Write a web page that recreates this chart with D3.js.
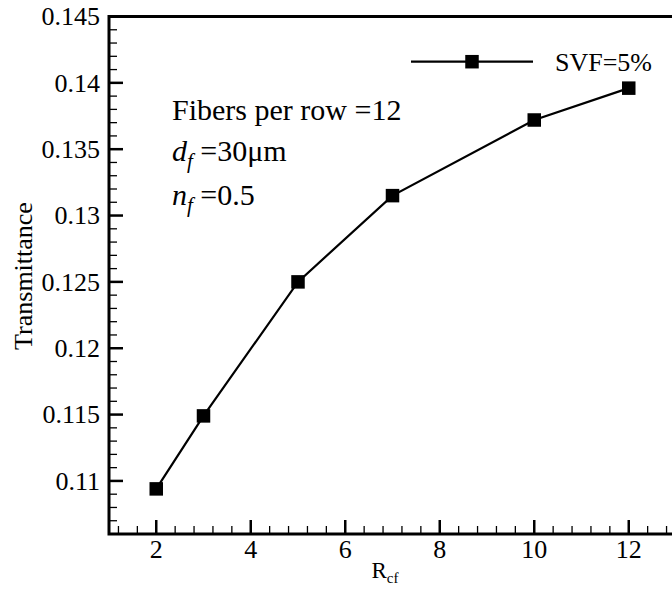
<!DOCTYPE html>
<html>
<head>
<meta charset="utf-8">
<script src="https://cdn.jsdelivr.net/npm/d3@7"></script>
<style>
  body { margin: 0; background: #fff; }
  text { font-family: "Liberation Serif", "Times New Roman", serif; fill: #000; }
</style>
</head>
<body>
<div id="chart"></div>
<script>
// data
const rcf = [2, 3, 5, 7, 10, 12]
const transmittance = [0.1094, 0.1149, 0.1250, 0.1315, 0.1372, 0.1396]
const xTicks = [2, 4, 6, 8, 10, 12]
const yTicks = [0.11, 0.115, 0.12, 0.125, 0.13, 0.135, 0.14, 0.145]
const seriesName = "SVF=5%"

const WIDTH = 672, HEIGHT = 590
const margin = { left: 109, top: 16.5, right: -4, bottom: 56 }

const svg = d3.select("#chart")
    .append("svg")
    .attr("width", WIDTH)
    .attr("height", HEIGHT)

const x = d3.scaleLinear()
    .domain([1, 13])
    .range([margin.left, WIDTH - margin.right])

const y = d3.scaleLinear()
    .domain([0.106, 0.145])
    .range([HEIGHT - margin.bottom, margin.top])

// minor ticks
const xMinor = d3.range(1.2, 13, 0.4).filter(v => Math.abs(v / 2 - Math.round(v / 2)) > 0.01)
const yMinor = d3.range(0.106, 0.1451, 0.001).filter(v => Math.abs(v / 0.005 - Math.round(v / 0.005)) > 0.01)

const tickFmt = d => d3.format("")(+d.toFixed(3))

// bottom axis
const gx = svg.append("g")
    .attr("transform", "translate(0," + y.range()[0] + ")")
gx.selectAll(".minor").data(xMinor).enter().append("line")
    .attr("x1", d => x(d)).attr("x2", d => x(d))
    .attr("y1", 0).attr("y2", -8)
    .attr("stroke", "#000").attr("stroke-width", 1.3)
gx.selectAll(".major").data(xTicks).enter().append("line")
    .attr("x1", d => x(d)).attr("x2", d => x(d))
    .attr("y1", 0).attr("y2", -14)
    .attr("stroke", "#000").attr("stroke-width", 2.5)
gx.selectAll("text").data(xTicks).enter().append("text")
    .attr("x", d => x(d))
    .attr("y", 24)
    .attr("text-anchor", "middle")
    .style("font-size", "26px")
    .text(d => d)

// left axis
const gy = svg.append("g")
    .attr("transform", "translate(" + x.range()[0] + ",0)")
gy.selectAll(".minor").data(yMinor).enter().append("line")
    .attr("x1", 0).attr("x2", 8)
    .attr("y1", d => y(d)).attr("y2", d => y(d))
    .attr("stroke", "#000").attr("stroke-width", 1.3)
gy.selectAll(".major").data(yTicks).enter().append("line")
    .attr("x1", 0).attr("x2", 14)
    .attr("y1", d => y(d)).attr("y2", d => y(d))
    .attr("stroke", "#000").attr("stroke-width", 2.5)
gy.selectAll("text").data(yTicks).enter().append("text")
    .attr("x", -9)
    .attr("y", d => y(d))
    .attr("dy", "0.34em")
    .attr("text-anchor", "end")
    .style("font-size", "26px")
    .text(tickFmt)

// frame
svg.append("rect")
    .attr("x", x.range()[0])
    .attr("y", y.range()[1])
    .attr("width", x.range()[1] - x.range()[0])
    .attr("height", y.range()[0] - y.range()[1])
    .attr("fill", "none")
    .attr("stroke", "#000")
    .attr("stroke-width", 3)

// axis titles
svg.append("text")
    .attr("transform", "translate(32,276) rotate(-90)")
    .attr("text-anchor", "middle")
    .style("font-size", "26px")
    .text("Transmittance")

const xl = svg.append("text")
    .attr("x", 385)
    .attr("y", 578)
    .attr("text-anchor", "middle")
    .style("font-size", "23px")
xl.append("tspan").text("R")
xl.append("tspan").attr("dy", 5).style("font-size", "15px").text("cf")

// series
const line = d3.line()
    .x((d, i) => x(rcf[i]))
    .y(d => y(d))

svg.append("path")
    .datum(transmittance)
    .attr("d", line)
    .attr("fill", "none")
    .attr("stroke", "#000")
    .attr("stroke-width", 2.2)

const M = 13.5
svg.selectAll(".pt").data(transmittance).enter().append("rect")
    .attr("x", (d, i) => x(rcf[i]) - M / 2)
    .attr("y", d => y(d) - M / 2)
    .attr("width", M).attr("height", M)
    .attr("fill", "#000")

// legend
const lg = svg.append("g")
lg.append("line")
    .attr("x1", 411).attr("x2", 533)
    .attr("y1", 61.7).attr("y2", 61.7)
    .attr("stroke", "#000").attr("stroke-width", 2.2)
lg.append("rect")
    .attr("x", 472 - M / 2).attr("y", 61.7 - M / 2)
    .attr("width", M).attr("height", M)
lg.append("text")
    .attr("x", 555).attr("y", 71)
    .style("font-size", "26px")
    .text(seriesName)

// annotations
svg.append("text")
    .attr("x", 172).attr("y", 120)
    .style("font-size", "30px")
    .text("Fibers per row =12")

const t2 = svg.append("text")
    .attr("x", 172).attr("y", 161)
    .style("font-size", "30px")
t2.append("tspan").style("font-style", "italic").text("d")
t2.append("tspan").attr("dy", 7).style("font-style", "italic").style("font-size", "21px").text("f")
t2.append("tspan").attr("dy", -7).text(" =30μm")

const t3 = svg.append("text")
    .attr("x", 172).attr("y", 205)
    .style("font-size", "30px")
t3.append("tspan").style("font-style", "italic").text("n")
t3.append("tspan").attr("dy", 7).style("font-style", "italic").style("font-size", "21px").text("f")
t3.append("tspan").attr("dy", -7).text(" =0.5")
</script>
</body>
</html>
